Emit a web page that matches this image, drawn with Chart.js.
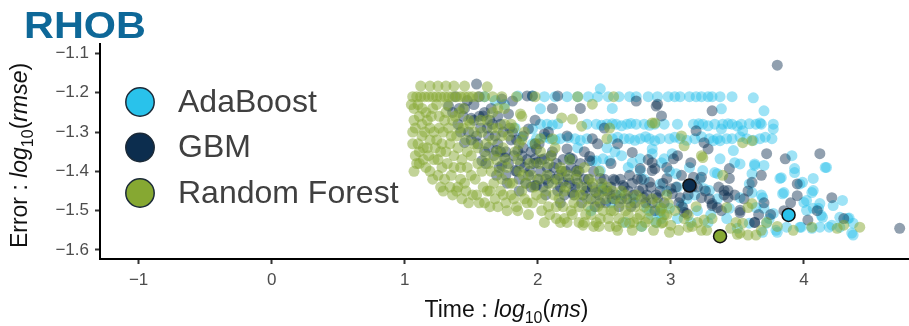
<!DOCTYPE html>
<html>
<head>
<meta charset="utf-8">
<script src="https://cdn.jsdelivr.net/npm/chart.js@4.4.1/dist/chart.umd.min.js"></script>
<style>
  html, body { margin: 0; padding: 0; background: #fff; }
  #wrap { width: 909px; height: 326px; position: relative; }
</style>
</head>
<body>
<div id="wrap"><canvas id="myChart"></canvas></div>
<script>
// model names (legend order)
const models = ["AdaBoost", "GBM", "Random Forest"];
const xTicks = [-1, 0, 1, 2, 3, 4];
const yTicks = [-1.6, -1.5, -1.4, -1.3, -1.2, -1.1];

// [log10(ms), log10(rmse)]
const adaBoostPoints = [
  [1.60,-1.21],[1.68,-1.22],[1.75,-1.23],[1.85,-1.208],[1.96,-1.208],[2.05,-1.21],[2.13,-1.21],[2.22,-1.21],[2.30,-1.21],
  [2.38,-1.21],[2.45,-1.21],[2.53,-1.21],[2.61,-1.21],[2.69,-1.21],[2.74,-1.21],[2.83,-1.21],[2.90,-1.21],[2.98,-1.21],
  [3.03,-1.21],[3.07,-1.21],[3.14,-1.21],[3.19,-1.21],[3.23,-1.21],[3.28,-1.21],[3.31,-1.21],[3.37,-1.21],[3.46,-1.21],
  [3.62,-1.213],[2.47,-1.19],[2.02,-1.241],[2.56,-1.24],[3.38,-1.241],[3.70,-1.246],
  [1.83,-1.29],[1.96,-1.292],[2.02,-1.28],[2.07,-1.28],[2.37,-1.28],[2.44,-1.28],[2.52,-1.28],[2.59,-1.28],[2.67,-1.28],
  [2.74,-1.28],[2.80,-1.28],[2.88,-1.28],[2.95,-1.28],[3.05,-1.28],[3.17,-1.28],[3.24,-1.28],[3.33,-1.28],[3.39,-1.28],
  [3.46,-1.28],[3.53,-1.28],[3.64,-1.28],[3.68,-1.28],[3.77,-1.28],[3.38,-1.292],[3.54,-1.297],[3.67,-1.277],[3.77,-1.292],
  [2.11,-1.282],[2.15,-1.279],[2.48,-1.283],[2.56,-1.279],[2.63,-1.284],[2.70,-1.278],[2.84,-1.283],[3.21,-1.279],[3.28,-1.284],
  [3.43,-1.279],[3.50,-1.285],[3.59,-1.279],
  [1.88,-1.313],[1.96,-1.33],[1.99,-1.317],[2.09,-1.317],[2.17,-1.317],[2.28,-1.317],[2.37,-1.317],[2.56,-1.317],[2.65,-1.317],
  [2.69,-1.317],[2.77,-1.317],[2.84,-1.317],[2.92,-1.317],[2.99,-1.317],[3.07,-1.317],[3.18,-1.317],[3.29,-1.317],[3.35,-1.317],
  [3.42,-1.317],[3.46,-1.317],[3.57,-1.317],[3.67,-1.317],[3.76,-1.317],[3.37,-1.322],
  [2.05,-1.313],[2.13,-1.32],[2.23,-1.314],[2.32,-1.321],[2.60,-1.313],[2.73,-1.321],[2.81,-1.312],[2.88,-1.322],[3.03,-1.313],
  [3.12,-1.321],[3.23,-1.312],[3.32,-1.322],[3.52,-1.312],[3.62,-1.321],[3.71,-1.313],
  [2.52,-1.34],[2.63,-1.36],[2.77,-1.368],[2.86,-1.343],[2.93,-1.378],[2.41,-1.373],[2.49,-1.368],[2.24,-1.368],[2.44,-1.373],
  [2.54,-1.373],[2.71,-1.378],[2.77,-1.398],[2.47,-1.398],[2.62,-1.46],[2.82,-1.494],[2.92,-1.507],[2.89,-1.53],[2.49,-1.444],
  [2.86,-1.355],[3.01,-1.355],[3.04,-1.406],[3.14,-1.39],[3.24,-1.398],[3.29,-1.449],[3.35,-1.406],[3.47,-1.347],[3.52,-1.381],
  [3.63,-1.381],[3.59,-1.432],[3.64,-1.492],[3.72,-1.532],[3.80,-1.555],[3.87,-1.542],[3.97,-1.542],[4.06,-1.545],[4.12,-1.542],
  [4.21,-1.537],[4.27,-1.542],[4.37,-1.562],[4.37,-1.532],[4.27,-1.517],[4.34,-1.519],[4.13,-1.512],[4.07,-1.494],[4.12,-1.482],
  [4.02,-1.474],[4.29,-1.474],[4.07,-1.449],[3.99,-1.428],[3.93,-1.403],[3.82,-1.418],[3.84,-1.457],[4.16,-1.39],[3.91,-1.36],
  [2.92,-1.492],[2.92,-1.432],[3.52,-1.467],[3.69,-1.467],[3.77,-1.507],[3.44,-1.494],[3.59,-1.532],[3.69,-1.555],
  [2.95,-1.368],[3.37,-1.368],[3.48,-1.378],[3.63,-1.385],[3.70,-1.385],[3.61,-1.406],[3.61,-1.454],[3.68,-1.46],[3.18,-1.46],
  [3.25,-1.444],[3.33,-1.403],[3.08,-1.487],[3.42,-1.52],[3.28,-1.53],[3.50,-1.545],[3.70,-1.494],[3.74,-1.52],[3.79,-1.55],
  [2.99,-1.494],[2.93,-1.52],[3.05,-1.44],[3.12,-1.47],[3.20,-1.50],[3.15,-1.53],[3.35,-1.47],[3.30,-1.51],[3.05,-1.52],[3.22,-1.42],
  [3.93,-1.393],[4.17,-1.39],[4.07,-1.418],[3.97,-1.432],[3.85,-1.454],[4.06,-1.454],[4.00,-1.479],[4.22,-1.487],[4.11,-1.494],
  [4.02,-1.499],[4.14,-1.517],[4.33,-1.52],[4.19,-1.542],[4.36,-1.557],[3.98,-1.542],[3.83,-1.416],
  [2.30,-1.34],[2.58,-1.35],[2.68,-1.39],[2.80,-1.42],[2.72,-1.47],[2.55,-1.48],[2.40,-1.50],[2.85,-1.51],[2.97,-1.45],
  [2.99,-1.40],[2.66,-1.53],[2.78,-1.54]
];

const gbmPoints = [
  [1.54,-1.178],[1.33,-1.234],[1.41,-1.24],[1.50,-1.265],[1.59,-1.259],[1.73,-1.216],[1.81,-1.221],[1.92,-1.208],[1.45,-1.327],
  [1.54,-1.31],[1.63,-1.339],[1.69,-1.347],[1.75,-1.365],[1.85,-1.347],[1.93,-1.292],[1.78,-1.254],[1.83,-1.398],[1.93,-1.41],
  [1.98,-1.436],[1.73,-1.385],[1.58,-1.373],[1.62,-1.29],[1.68,-1.31],[1.72,-1.28],[1.80,-1.32],[1.88,-1.36],[1.90,-1.39],
  [1.76,-1.41],[1.86,-1.42],[1.95,-1.35],[2.02,-1.40],[2.12,-1.39],[2.15,-1.45],[2.21,-1.40],[2.28,-1.44],[2.35,-1.42],
  [2.40,-1.47],[2.48,-1.44],[2.56,-1.47],[2.62,-1.42],[2.68,-1.45],[2.73,-1.48],[2.78,-1.42],[1.65,-1.24],[1.47,-1.22],
  [1.38,-1.21],[1.56,-1.21],
  [1.99,-1.378],[1.99,-1.436],[2.09,-1.41],[2.19,-1.428],[2.26,-1.454],[2.34,-1.46],[2.44,-1.454],[2.54,-1.457],[2.64,-1.436],
  [2.69,-1.41],[2.79,-1.444],[2.86,-1.48],[2.89,-1.46],[2.24,-1.365],[2.39,-1.373],[2.29,-1.398],[2.47,-1.418],[2.58,-1.423],
  [2.06,-1.46],[2.17,-1.48],[2.77,-1.393],[2.86,-1.378],
  [1.96,-1.208],[2.15,-1.208],[2.11,-1.24],[2.32,-1.24],[2.74,-1.221],[2.90,-1.229],[2.05,-1.305],[2.22,-1.31],[2.41,-1.317],
  [2.50,-1.29],[1.99,-1.343],[2.22,-1.343],[2.71,-1.352],[1.98,-1.368],[2.05,-1.368],[2.26,-1.368],[2.39,-1.362],[2.83,-1.37],
  [2.89,-1.234],[2.93,-1.259],[3.31,-1.246],[3.19,-1.297],[3.25,-1.327],[3.28,-1.343],[3.05,-1.36],[3.72,-1.355],[3.86,-1.368],
  [4.12,-1.355],[3.68,-1.41],[3.95,-1.432],[3.95,-1.462],[4.21,-1.467],[4.03,-1.524],[4.72,-1.545],[3.80,-1.13],[3.52,-1.505],
  [3.63,-1.53],[3.44,-1.418],[3.40,-1.46],[3.31,-1.487],[3.09,-1.492],[3.01,-1.457],[2.97,-1.39],[2.86,-1.398],[2.84,-1.428],
  [2.80,-1.467],[3.07,-1.467],[3.17,-1.415],[3.23,-1.467],[3.35,-1.492],[3.12,-1.507],[3.43,-1.449],
  [2.88,-1.393],[2.97,-1.418],[3.00,-1.444],[3.08,-1.41],[3.23,-1.415],[3.40,-1.449],[3.43,-1.467],[3.31,-1.482],[3.10,-1.504],
  [3.52,-1.499],[3.63,-1.53],[3.61,-1.428],[3.44,-1.393],[2.90,-1.467],[3.02,-1.368],[3.15,-1.378],
  [1.36,-1.25],[1.40,-1.28],[1.44,-1.26],[1.48,-1.30],[1.52,-1.27],[1.55,-1.33],[1.57,-1.29],[1.60,-1.35],[1.63,-1.31],
  [1.66,-1.28],[1.67,-1.36],[1.70,-1.33],[1.71,-1.39],[1.74,-1.30],[1.76,-1.35],[1.78,-1.38],[1.79,-1.29],[1.82,-1.36],
  [1.84,-1.32],[1.84,-1.40],[1.87,-1.38],[1.89,-1.34],[1.91,-1.43],[1.92,-1.37],[1.94,-1.40],[1.97,-1.38],[1.98,-1.33],
  [2.00,-1.42],[2.03,-1.37],[2.04,-1.44],[2.07,-1.39],[2.08,-1.43],[2.10,-1.36],[2.13,-1.42],[2.14,-1.38],[2.17,-1.44],
  [2.18,-1.40],[2.20,-1.46],[2.23,-1.42],[2.25,-1.39],[2.27,-1.46],[2.30,-1.43],[2.31,-1.40],[2.33,-1.48],[2.36,-1.45],
  [2.38,-1.42],[2.41,-1.44],[2.43,-1.49],[2.46,-1.46],[2.50,-1.42],[2.51,-1.48],[2.55,-1.44],[2.59,-1.46],[2.61,-1.49],
  [2.65,-1.44],[2.67,-1.47],[2.71,-1.43],[2.72,-1.46],[2.76,-1.45],[2.82,-1.46],[2.85,-1.44],[2.92,-1.45],[2.95,-1.48],
  [3.04,-1.44],[3.13,-1.46],[3.20,-1.44],[3.26,-1.45],[3.36,-1.44],[3.48,-1.46],[3.55,-1.47],[3.70,-1.48],[3.75,-1.51],
  [3.85,-1.50],[4.10,-1.50],[4.30,-1.52],[1.45,-1.24],[1.52,-1.23],[1.60,-1.25],[1.70,-1.26],[1.98,-1.27],[2.08,-1.30],
  [2.35,-1.35],[2.55,-1.38],[2.60,-1.33],[2.45,-1.33],
  [1.42,-1.30],[1.50,-1.32],[1.56,-1.26],[1.61,-1.38],[1.64,-1.27],[1.69,-1.41],[1.72,-1.35],[1.77,-1.43],[1.81,-1.30],
  [1.86,-1.45],[1.89,-1.31],[1.95,-1.44],[2.01,-1.33],[2.06,-1.42],[2.11,-1.35],[2.16,-1.41],[2.19,-1.37],[2.24,-1.43],
  [2.29,-1.41],[2.32,-1.38],[2.37,-1.44],[2.42,-1.40],[2.47,-1.48],[2.52,-1.45],[2.57,-1.42],[2.63,-1.47],[2.70,-1.49],
  [2.75,-1.42],[2.81,-1.48],[2.88,-1.50],[2.94,-1.43],[3.06,-1.48],[3.16,-1.44],[3.29,-1.47],[3.38,-1.50],[3.58,-1.45],
  [3.66,-1.51],[3.90,-1.48]
];

const rfPoints = [
  [1.12,-1.183],[1.19,-1.183],[1.25,-1.183],[1.31,-1.183],[1.37,-1.183],[1.45,-1.183],[1.62,-1.185],
  [1.06,-1.21],[1.09,-1.21],[1.12,-1.21],[1.15,-1.21],[1.18,-1.21],[1.21,-1.21],[1.24,-1.21],[1.27,-1.21],[1.30,-1.21],
  [1.33,-1.21],[1.36,-1.21],[1.39,-1.21],[1.42,-1.21],[1.45,-1.21],[1.48,-1.21],[1.51,-1.21],[1.55,-1.21],[1.60,-1.21],
  [1.66,-1.21],[1.73,-1.21],[1.84,-1.21],[1.98,-1.21],[2.30,-1.21],[2.57,-1.21],
  [1.70,-1.24],[1.87,-1.254],[1.75,-1.28],[2.18,-1.264],[2.26,-1.267],[2.41,-1.229],[2.33,-1.285],[2.54,-1.29],[2.86,-1.277],
  [2.02,-1.317],[2.11,-1.317],[2.52,-1.317],[3.08,-1.31],[3.10,-1.335],[3.24,-1.365],[3.54,-1.327],[3.61,-1.322],[2.88,-1.277],
  [1.07,-1.24],[1.11,-1.26],[1.16,-1.25],[1.21,-1.24],[1.26,-1.26],[1.31,-1.25],[1.36,-1.27],[1.41,-1.25],
  [1.08,-1.29],[1.13,-1.31],[1.19,-1.29],[1.24,-1.32],[1.29,-1.30],[1.34,-1.33],[1.39,-1.31],[1.44,-1.29],[1.49,-1.28],
  [1.06,-1.33],[1.11,-1.35],[1.17,-1.34],[1.22,-1.37],[1.27,-1.35],[1.32,-1.38],[1.37,-1.36],[1.42,-1.39],[1.47,-1.35],[1.52,-1.33],
  [1.09,-1.38],[1.14,-1.37],[1.19,-1.40],[1.25,-1.41],[1.30,-1.42],[1.35,-1.41],[1.40,-1.44],[1.45,-1.43],[1.50,-1.41],[1.55,-1.38],
  [1.29,-1.45],[1.36,-1.46],[1.43,-1.47],[1.48,-1.48],[1.54,-1.46],[1.59,-1.44],
  [1.58,-1.30],[1.62,-1.27],[1.66,-1.32],[1.70,-1.29],[1.74,-1.34],[1.78,-1.31],[1.82,-1.29],[1.86,-1.33],[1.90,-1.30],
  [1.61,-1.36],[1.65,-1.40],[1.69,-1.37],[1.73,-1.42],[1.77,-1.39],[1.81,-1.43],[1.85,-1.37],[1.89,-1.41],[1.94,-1.38],
  [1.60,-1.48],[1.64,-1.45],[1.68,-1.47],[1.72,-1.45],[1.76,-1.48],[1.80,-1.46],[1.84,-1.49],[1.88,-1.45],[1.92,-1.48],[1.97,-1.44],
  [1.66,-1.25],[1.75,-1.24],[1.88,-1.26],
  [2.02,-1.35],[2.08,-1.38],[2.13,-1.34],[2.18,-1.40],[2.24,-1.37],[2.29,-1.42],[2.35,-1.39],[2.41,-1.43],[2.46,-1.40],
  [2.01,-1.42],[2.06,-1.45],[2.11,-1.43],[2.16,-1.47],[2.21,-1.44],[2.27,-1.48],[2.32,-1.46],[2.38,-1.49],[2.44,-1.47],[2.49,-1.45],
  [2.03,-1.50],[2.09,-1.51],[2.14,-1.49],[2.20,-1.52],[2.25,-1.50],[2.31,-1.53],[2.36,-1.51],[2.42,-1.54],[2.47,-1.52],[2.34,-1.537],
  [2.17,-1.53],[2.44,-1.53],
  [2.52,-1.44],[2.58,-1.47],[2.63,-1.45],[2.69,-1.48],[2.74,-1.46],[2.80,-1.49],[2.86,-1.47],[2.92,-1.50],[2.97,-1.46],
  [2.55,-1.50],[2.61,-1.52],[2.66,-1.50],[2.72,-1.53],[2.77,-1.51],[2.83,-1.52],[2.89,-1.53],[2.95,-1.51],
  [2.54,-1.54],[2.60,-1.55],[2.69,-1.532],[2.78,-1.54],
  [2.93,-1.494],[3.00,-1.537],[3.13,-1.542],[3.25,-1.524],[3.23,-1.55],[3.39,-1.41],[3.42,-1.492],[3.49,-1.53],[3.52,-1.557],
  [3.58,-1.562],[3.64,-1.562],[3.54,-1.532],[3.72,-1.53],[3.20,-1.53],[2.98,-1.482],[3.13,-1.512],[3.58,-1.492],[3.61,-1.482],
  [3.23,-1.36],[2.93,-1.532],[3.50,-1.56],
  [3.92,-1.55],[4.06,-1.542],[4.25,-1.545],[4.30,-1.537],[4.42,-1.542],
  [1.05,-1.23],[1.07,-1.27],[1.06,-1.30],[1.08,-1.36],[1.07,-1.40],[1.10,-1.23],[1.10,-1.33],[1.11,-1.38],[1.13,-1.24],
  [1.13,-1.28],[1.14,-1.34],[1.15,-1.30],[1.16,-1.39],[1.17,-1.27],[1.18,-1.36],[1.19,-1.32],[1.20,-1.26],[1.21,-1.42],
  [1.22,-1.30],[1.23,-1.34],[1.24,-1.23],[1.25,-1.37],[1.26,-1.29],[1.27,-1.44],[1.28,-1.33],[1.28,-1.39],[1.30,-1.27],[1.31,-1.35],
  [1.32,-1.23],[1.33,-1.29],[1.34,-1.44],[1.35,-1.31],[1.37,-1.39],[1.38,-1.26],[1.39,-1.45],[1.40,-1.34],[1.41,-1.29],
  [1.42,-1.42],[1.43,-1.37],[1.44,-1.24],[1.46,-1.32],[1.46,-1.45],[1.47,-1.39],[1.48,-1.27],[1.50,-1.36],[1.51,-1.46],
  [1.52,-1.30],[1.53,-1.42],[1.55,-1.34],[1.56,-1.48],[1.57,-1.27],[1.58,-1.40],
  [1.61,-1.33],[1.62,-1.45],[1.63,-1.38],[1.64,-1.49],[1.66,-1.29],[1.67,-1.43],[1.69,-1.35],[1.70,-1.49],[1.71,-1.40],
  [1.73,-1.31],[1.74,-1.46],[1.76,-1.37],[1.77,-1.50],[1.79,-1.43],[1.80,-1.28],[1.82,-1.47],[1.83,-1.35],[1.85,-1.50],
  [1.86,-1.40],[1.88,-1.32],[1.90,-1.47],[1.91,-1.43],[1.93,-1.51],[1.95,-1.41],[1.96,-1.48],[1.98,-1.33],[1.99,-1.46],
  [2.01,-1.38],[2.03,-1.47],[2.05,-1.53],[2.07,-1.41],[2.08,-1.49],[2.10,-1.36],[2.12,-1.46],[2.14,-1.52],[2.15,-1.42],
  [2.17,-1.39],[2.19,-1.49],[2.20,-1.45],[2.22,-1.53],[2.23,-1.41],[2.26,-1.51],[2.28,-1.46],[2.30,-1.40],[2.31,-1.49],
  [2.33,-1.44],[2.35,-1.53],[2.37,-1.47],[2.39,-1.42],[2.40,-1.51],[2.43,-1.45],[2.45,-1.49],[2.46,-1.54],[2.48,-1.43],[2.49,-1.50],
  [2.51,-1.47],[2.53,-1.52],[2.56,-1.45],[2.57,-1.50],[2.59,-1.54],[2.62,-1.48],[2.64,-1.53],[2.66,-1.46],[2.68,-1.51],
  [2.71,-1.55],[2.73,-1.49],[2.75,-1.52],[2.78,-1.47],[2.81,-1.53],[2.84,-1.50],[2.87,-1.55],[2.90,-1.48],[2.94,-1.53],
  [2.97,-1.51],[2.99,-1.555],
  [3.03,-1.50],[3.06,-1.55],[3.10,-1.52],[3.16,-1.54],[3.19,-1.49],[3.27,-1.55],[3.31,-1.52],[3.45,-1.545],[3.68,-1.55],[3.80,-1.54]
];

// best model of each family
const bestAdaBoost = [3.885, -1.511];
const bestGbm = [3.14, -1.436];
const bestRf = [3.37, -1.565];

const fills = ["#29c2eb", "#0c2d4e", "#86a832"];
const fades = ["rgba(41,194,235,0.45)", "rgba(12,45,78,0.45)", "rgba(134,168,50,0.5)"];
const FONT = "'Liberation Sans', Arial, Helvetica, sans-serif";

function toXY(list) {
  return list.map(function (p) { return { x: p[0], y: p[1] }; });
}

function minusLabel(v) {
  var s = Math.abs(v) < 1e-9 ? "0" : String(Math.round(Math.abs(v) * 10) / 10);
  return v < -1e-9 ? "\u2212" + s : s;
}

// draws text made of pieces with different styles, centred on x
function drawPieces(ctx, pieces, x, y) {
  var w = 0;
  pieces.forEach(function (p) { ctx.font = p[1]; w += ctx.measureText(p[0]).width; });
  var cx = x - w / 2;
  pieces.forEach(function (p) {
    ctx.font = p[1];
    ctx.fillText(p[0], cx, y + (p[2] || 0));
    cx += ctx.measureText(p[0]).width;
  });
}

const decorations = {
  id: "decorations",
  afterDraw(chart) {
    const ctx = chart.ctx;
    const area = chart.chartArea;
    ctx.save();

    // panel title (wide bold face in the original)
    ctx.save();
    ctx.fillStyle = "#0e6898";
    ctx.font = "bold 36px " + FONT;
    ctx.textBaseline = "alphabetic";
    ctx.textAlign = "left";
    ctx.translate(24, 38);
    ctx.scale(1.15, 1);
    ctx.fillText("RHOB", 0, 0);
    ctx.restore();

    // legend inside the panel
    models.forEach(function (name, i) {
      const cx = area.left + 40;
      const cy = area.top + 58 + i * 45.5;
      ctx.beginPath();
      ctx.arc(cx, cy, 14.2, 0, Math.PI * 2);
      ctx.fillStyle = fills[i];
      ctx.fill();
      ctx.lineWidth = 1.5;
      ctx.strokeStyle = "#1b2a38";
      ctx.stroke();
      ctx.fillStyle = "#404040";
      ctx.font = "32px " + FONT;
      ctx.textBaseline = "middle";
      ctx.fillText(name, area.left + 78, cy + 1);
    });

    // axis titles
    const reg = "23px " + FONT, ita = "italic 23px " + FONT, sub = "16px " + FONT;
    ctx.fillStyle = "#111";
    ctx.textBaseline = "alphabetic";
    drawPieces(ctx, [["Time : ", reg], ["log", ita], ["10", sub, 6], ["(", reg], ["ms", ita], [")", reg]],
      (area.left + area.right) / 2 + 2, 317);

    ctx.translate(27, (area.top + area.bottom) / 2 + 4);
    ctx.rotate(-Math.PI / 2);
    drawPieces(ctx, [["Error : ", reg], ["log", ita], ["10", sub, 6], ["(", reg], ["rmse", ita], [")", reg]], 0, 0);
    ctx.restore();
  }
};

// higher order is painted first
function cloud(i, list, order) {
  return {
    label: models[i],
    data: toXY(list),
    backgroundColor: fades[i],
    borderWidth: 0,
    pointRadius: 5.5,
    pointHoverRadius: 5.5,
    order: order
  };
}

function best(i, p) {
  return {
    label: models[i] + " best",
    data: toXY([p]),
    backgroundColor: fills[i],
    borderColor: "#111",
    borderWidth: 1.5,
    pointRadius: 6.5,
    pointHoverRadius: 6.5,
    order: 0
  };
}

var ctx = document.getElementById("myChart");
new Chart(ctx, {
  type: "scatter",
  data: {
    datasets: [
      cloud(0, adaBoostPoints, 3),
      cloud(1, gbmPoints, 2),
      cloud(2, rfPoints, 1),
      best(0, bestAdaBoost),
      best(1, bestGbm),
      best(2, bestRf)
    ]
  },
  options: {
    responsive: true,
    maintainAspectRatio: false,
    animation: false,
    events: [],
    layout: { autoPadding: false, padding: { top: 44, left: 40, right: 0, bottom: 0 } },
    plugins: { legend: { display: false }, tooltip: { enabled: false } },
    scales: {
      x: {
        type: "linear",
        min: -1.29,
        max: 4.79,
        afterBuildTicks: function (s) { s.ticks = xTicks.map(function (v) { return { value: v }; }); },
        afterFit: function (s) { s.height = 67; s.paddingLeft = 0; s.paddingRight = 0; },
        ticks: { color: "#4d4d4d", font: { size: 17, family: FONT }, padding: 6, callback: minusLabel },
        grid: { drawOnChartArea: false, tickLength: 5, tickWidth: 2, tickColor: "#333" },
        border: { color: "#000", width: 2 }
      },
      y: {
        type: "linear",
        min: -1.623,
        max: -1.076,
        afterBuildTicks: function (s) { s.ticks = yTicks.map(function (v) { return { value: v }; }); },
        afterFit: function (s) { s.width = 60; },
        ticks: { color: "#4d4d4d", font: { size: 17, family: FONT }, padding: 6, callback: minusLabel },
        grid: { drawOnChartArea: false, tickLength: 5, tickWidth: 2, tickColor: "#333" },
        border: { color: "#000", width: 2 }
      }
    }
  },
  plugins: [decorations]
});
</script>
</body>
</html>
